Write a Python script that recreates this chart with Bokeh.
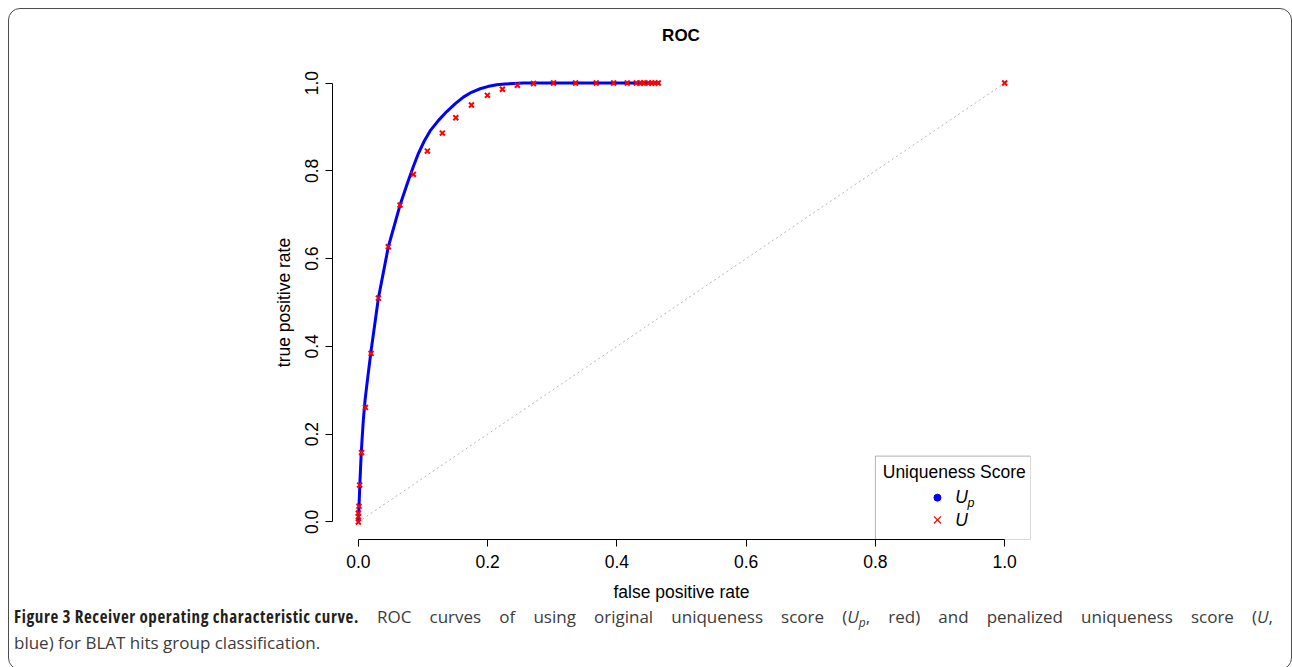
from bokeh.plotting import figure
from bokeh.models import BoxAnnotation, Label, Div, FixedTicker
from bokeh.layouts import column
from bokeh.embed import file_html
from bokeh.resources import INLINE

# ---- data ----
# U (red crosses)
fpr_u = [0.0, 0.0, 0.0, 0.001, 0.002, 0.005, 0.011, 0.0197, 0.031, 0.0464, 0.0645,
         0.0851, 0.1068, 0.130, 0.1508, 0.175, 0.1997, 0.2229, 0.246, 0.271, 0.302,
         0.336, 0.368, 0.395, 0.416, 0.430, 0.437, 0.441, 0.449, 0.454, 0.459, 0.464, 1.0]
tpr_u = [0.0, 0.012, 0.02, 0.036, 0.084, 0.158, 0.261, 0.384, 0.51, 0.627, 0.722,
         0.792, 0.845, 0.886, 0.921, 0.950, 0.972, 0.986, 0.995, 0.999, 1.0,
         1.0, 1.0, 1.0, 1.0, 1.0, 1.0, 1.0, 1.0, 1.0, 1.0, 1.0, 1.0]
# U_p (blue points)
fpr_up = [0.0, 0.001, 0.0026, 0.0042, 0.0057, 0.0077, 0.0104, 0.0146, 0.0197, 0.031,
          0.0464, 0.0645, 0.0755, 0.0851, 0.093, 0.102, 0.111, 0.124, 0.1368, 0.150,
          0.1625, 0.175, 0.1884, 0.200, 0.2142, 0.227, 0.240, 0.255, 0.467]
tpr_up = [0.0, 0.035, 0.096, 0.149, 0.187, 0.232, 0.278, 0.330, 0.390, 0.51,
          0.627, 0.722, 0.770, 0.810, 0.840, 0.868, 0.891, 0.915, 0.935, 0.953,
          0.968, 0.979, 0.987, 0.992, 0.996, 0.998, 0.999, 1.0, 1.0]
diag = [0.0, 1.0]
ticks = [0.0, 0.2, 0.4, 0.6, 0.8, 1.0]
tick_labels = ["0.0", "0.2", "0.4", "0.6", "0.8", "1.0"]

FONT = "Liberation Sans"
FS = "17.5px"

title = Div(
    text=('<div style="margin-left:323px;width:698px;text-align:center;'
          'font-family:\'Liberation Sans\';font-weight:bold;font-size:17px;'
          'line-height:20px;padding-top:17px;color:black;">ROC</div>'),
    width=1282, height=46, margin=0,
)

p = figure(frame_width=698, frame_height=474,
           x_range=(-0.04, 1.04), y_range=(-0.04, 1.04),
           min_border_left=323, min_border_right=261,
           min_border_top=10, min_border_bottom=62,
           output_backend="svg", toolbar_location=None,
           background_fill_color="white", border_fill_color="white")
p.outline_line_color = None
p.grid.visible = False

for ax in (p.xaxis[0], p.yaxis[0]):
    ax.bounds = (0, 1)
    ax.ticker = FixedTicker(ticks=ticks)
    ax.major_label_overrides = {t: l for t, l in zip(ticks, tick_labels)}
    ax.minor_tick_line_color = None
    ax.major_tick_in = 0
    ax.major_tick_out = 7
    ax.axis_line_color = "black"
    ax.major_tick_line_color = "black"
    ax.major_label_text_font = FONT
    ax.major_label_text_font_size = FS
    ax.major_label_text_color = "black"
    ax.axis_label_text_font = FONT
    ax.axis_label_text_font_size = FS
    ax.axis_label_text_font_style = "normal"
    ax.axis_label_text_color = "black"

p.xaxis.axis_label = "false positive rate"
p.yaxis.axis_label = "true positive rate"
p.xaxis.major_label_standoff = 8
p.xaxis.axis_label_standoff = 11
p.yaxis.major_label_orientation = "vertical"
p.yaxis.major_label_standoff = 7
p.yaxis.axis_label_standoff = 9

# diagonal reference
p.line(diag, diag, line_color="#b5b5b5", line_width=1, line_dash="2 3")
# U_p curve (blue)
p.line(fpr_up, tpr_up, line_color="#0000ff", line_width=3)
# U (red crosses)
p.scatter(fpr_u, tpr_u, marker="x", size=7, line_color="#ff0000", line_width=2)

# legend
p.add_layout(BoxAnnotation(left=0.8, right=1.04, bottom=-0.04, top=0.150,
                           fill_color=None, line_color="black", line_width=1))
p.add_layout(Label(x=0.922, y=0.1146, text="Uniqueness Score", text_align="center",
                   text_baseline="middle", text_font=FONT, text_font_size=FS,
                   text_color="black"))
p.scatter([0.896], [0.0554], marker="circle", size=7, fill_color="#0000ff", line_color="#0000ff")
p.scatter([0.896], [0.0046], marker="x", size=10, line_color="#ff0000", line_width=1.2)
p.add_layout(Label(x=0.9237, y=0.0576, text="U", text_align="left", text_baseline="middle",
                   text_font=FONT, text_font_size=FS, text_font_style="italic",
                   text_color="black"))
p.add_layout(Label(x=0.9427, y=0.0433, text="p", text_align="left", text_baseline="middle",
                   text_font=FONT, text_font_size="12.5px", text_font_style="italic",
                   text_color="black"))
p.add_layout(Label(x=0.9237, y=0.0046, text="U", text_align="left", text_baseline="middle",
                   text_font=FONT, text_font_size=FS, text_font_style="italic",
                   text_color="black"))

caption = Div(
    text=(
        '<div style="font-family:\'Open Sans\';font-size:17px;line-height:26px;'
        'color:#3c3c3c;padding:0 0 0 5px;width:1264px;">'
        '<div style="text-align:justify;text-align-last:justify;white-space:nowrap;">'
        '<span style="display:inline-block;font-weight:bold;color:#231f20;'
        'font-stretch:75%;letter-spacing:0.6px;">'
        'Figure 3 Receiver operating characteristic curve.</span> '
        'ROC curves of using original uniqueness score (<i>U<sub style="font-size:12px;line-height:0">p</sub></i>, red) '
        'and penalized uniqueness score (<i>U</i>,</div>'
        '<div style="text-align:left;white-space:nowrap;">'
        'blue) for BLAT hits group classification.</div></div>'
    ),
    width=1282, height=65, margin=0,
)

layout = column(title, p, caption, margin=(8, 0, 0, 8),
                styles={"border": "1px solid #4d4d4d", "border-radius": "12px",
                        "background": "white"})

open("out.html", "w").write(file_html(layout, INLINE))
